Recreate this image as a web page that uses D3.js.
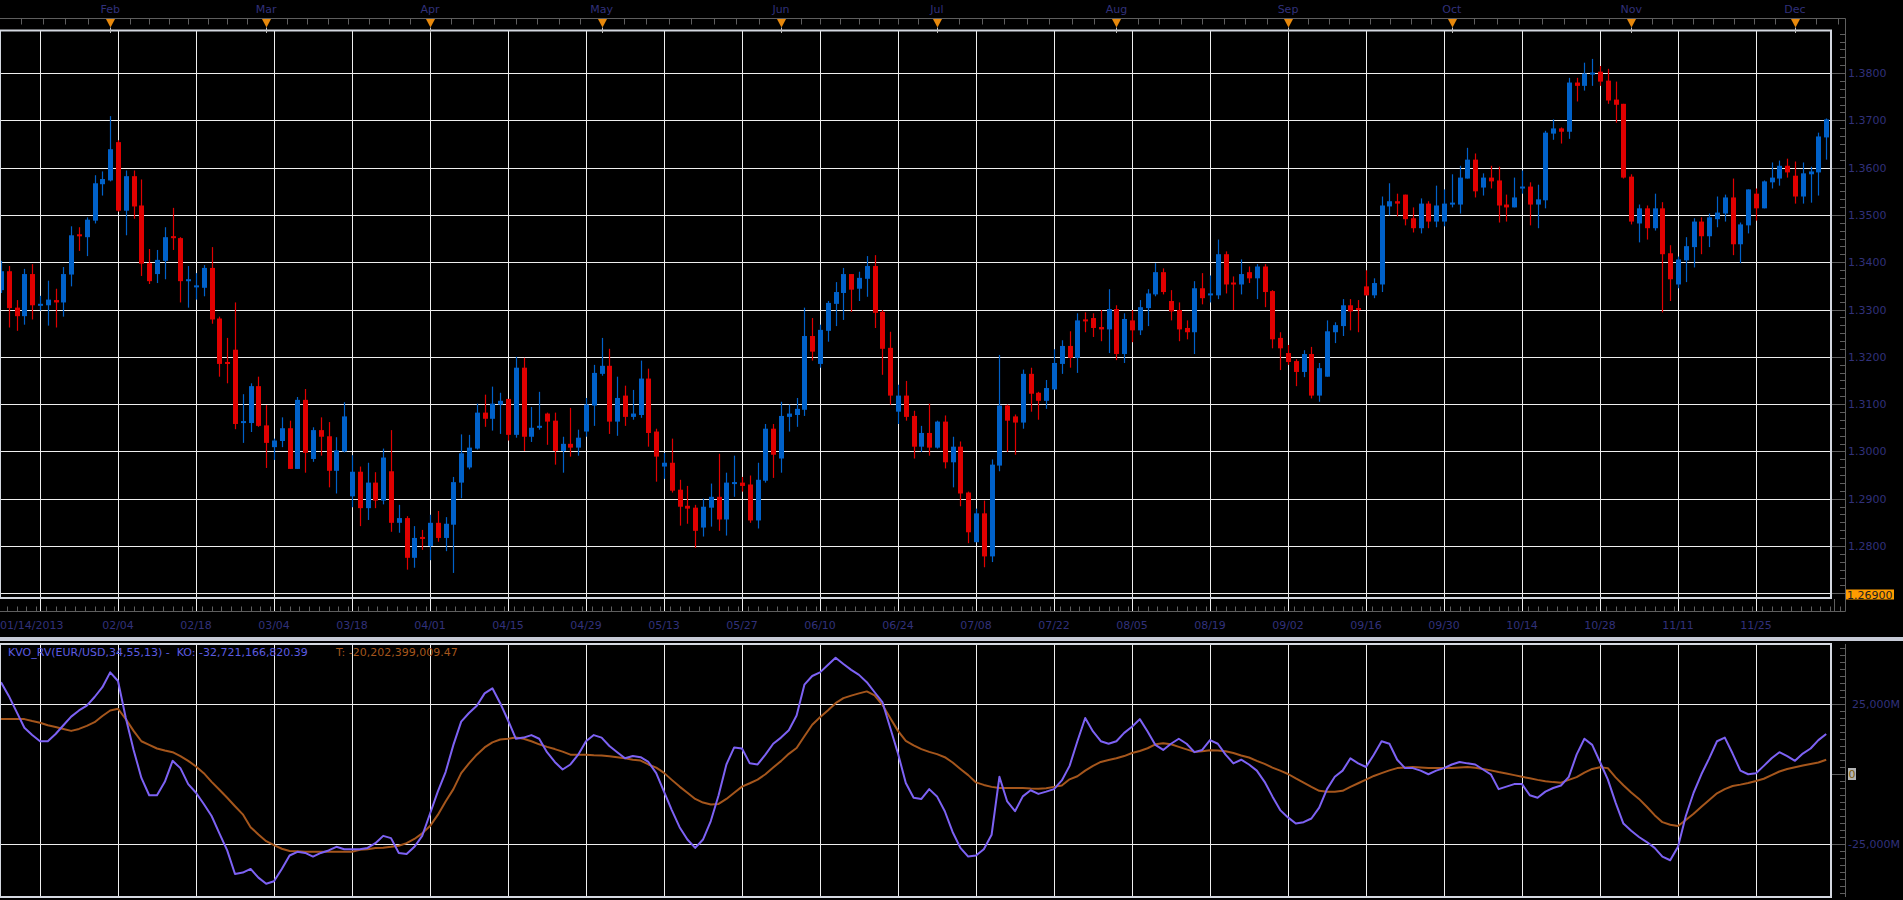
<!DOCTYPE html>
<html>
<head>
<meta charset="utf-8">
<script src="https://cdnjs.cloudflare.com/ajax/libs/d3/7.8.5/d3.min.js"></script>
<style>
  html, body { margin: 0; padding: 0; background: #000; overflow: hidden; }
  svg { display: block; }
  text { font-family: "DejaVu Sans", Verdana, sans-serif; font-size: 11px; }
</style>
</head>
<body>
<div id="chart"></div>
<script>
// EUR/USD daily candles, one per weekday starting 01/14/2013
const open = [1.3341,1.3381,1.3304,1.3286,1.3375,1.3310,1.3309,1.3320,1.3315,1.3374,
1.3457,1.3453,1.3488,1.3565,1.3573,1.3654,1.3509,1.3582,1.3520,1.3398,
1.3375,1.3403,1.3453,1.3451,1.3362,1.3345,1.3346,1.3388,1.3281,1.3187,
1.3215,1.3058,1.3060,1.3138,1.3055,1.3009,1.3022,1.3049,1.2963,1.3109,
1.2984,1.3045,1.3032,1.2959,1.3000,1.2905,1.2957,1.2880,1.2934,1.2896,
1.2958,1.2849,1.2859,1.2775,1.2817,1.2800,1.2849,1.2817,1.2845,1.2934,
1.2966,1.3006,1.3082,1.3069,1.3099,1.3111,1.3035,1.3177,1.3031,1.3048,
1.3080,1.3065,1.3001,1.3016,1.3008,1.3042,1.3097,1.3164,1.3181,1.3063,
1.3118,1.3073,1.3077,1.3154,1.3042,1.2968,1.2976,1.2919,1.2885,1.2881,
1.2839,1.2881,1.2904,1.2856,1.2933,1.2934,1.2930,1.2854,1.2938,1.3048,
1.2985,1.3073,1.3077,1.3088,1.3244,1.3185,1.3255,1.3312,1.3335,1.3375,
1.3344,1.3365,1.3392,1.3295,1.3219,1.3084,1.3118,1.3075,1.3010,1.3039,
1.3008,1.3063,1.2977,1.3010,1.2913,1.2808,1.2869,1.2778,1.2970,1.3097,
1.3074,1.3061,1.3164,1.3124,1.3107,1.3131,1.3185,1.3223,1.3198,1.3277,
1.3282,1.3263,1.3258,1.3301,1.3206,1.3277,1.3256,1.3303,1.3332,1.3379,
1.3318,1.3299,1.3261,1.3252,1.3345,1.3328,1.3330,1.3417,1.3355,1.3353,
1.3379,1.3366,1.3391,1.3339,1.3240,1.3208,1.3191,1.3168,1.3206,1.3118,
1.3158,1.3252,1.3265,1.3309,1.3301,1.3349,1.3330,1.3353,1.3518,1.3529,
1.3543,1.3493,1.3472,1.3524,1.3486,1.3486,1.3522,1.3522,1.3577,1.3617,
1.3558,1.3579,1.3573,1.3522,1.3516,1.3558,1.3560,1.3522,1.3531,1.3672,
1.3683,1.3676,1.3780,1.3773,1.3799,1.3803,1.3784,1.3744,1.3735,1.3581,
1.3482,1.3514,1.3472,1.3514,1.3419,1.3353,1.3404,1.3432,1.3486,1.3455,
1.3491,1.3503,1.3537,1.3438,1.3478,1.3545,1.3514,1.3569,1.3577,1.3604,
1.3583,1.3539,1.3586,1.3590,1.3664]
const high = [1.3403,1.3392,1.3320,1.3386,1.3396,1.3329,1.3361,1.3344,1.3390,1.3476,
1.3474,1.3495,1.3584,1.3592,1.3709,1.3658,1.3594,1.3594,1.3575,1.3428,
1.3426,1.3474,1.3515,1.3453,1.3392,1.3377,1.3394,1.3432,1.3285,1.3240,
1.3315,1.3121,1.3144,1.3158,1.3098,1.3027,1.3072,1.3065,1.3115,1.3132,
1.3051,1.3072,1.3062,1.3030,1.3104,1.2992,1.2968,1.2976,1.2956,1.3006,
1.3045,1.2887,1.2863,1.2842,1.2834,1.2866,1.2874,1.2861,1.2946,1.3036,
1.3035,1.3101,1.3120,1.3137,1.3124,1.3111,1.3200,1.3198,1.3094,1.3126,
1.3082,1.3082,1.3031,1.3092,1.3046,1.3113,1.3183,1.3240,1.3217,1.3158,
1.3139,1.3130,1.3192,1.3175,1.3048,1.2997,1.3027,1.2940,1.2927,1.2887,
1.2900,1.2932,1.2995,1.2955,1.2991,1.2946,1.2949,1.2976,1.3058,1.3058,
1.3105,1.3099,1.3113,1.3304,1.3282,1.3268,1.3318,1.3358,1.3388,1.3375,
1.3380,1.3413,1.3415,1.3299,1.3253,1.3141,1.3149,1.3086,1.3054,1.3101,
1.3065,1.3076,1.3031,1.3021,1.2915,1.2879,1.2896,1.2983,1.3204,1.3099,
1.3078,1.3173,1.3177,1.3126,1.3151,1.3216,1.3235,1.3254,1.3292,1.3294,
1.3292,1.3299,1.3343,1.3309,1.3292,1.3299,1.3320,1.3343,1.3398,1.3387,
1.3341,1.3315,1.3277,1.3360,1.3377,1.3372,1.3448,1.3423,1.3370,1.3406,
1.3391,1.3396,1.3396,1.3341,1.3252,1.3225,1.3195,1.3214,1.3221,1.3187,
1.3277,1.3273,1.3322,1.3322,1.3320,1.3383,1.3366,1.3539,1.3567,1.3545,
1.3543,1.3516,1.3535,1.3529,1.3562,1.3554,1.3586,1.3604,1.3642,1.3630,
1.3588,1.3604,1.3602,1.3543,1.3579,1.3594,1.3569,1.3564,1.3678,1.3702,
1.3685,1.3790,1.3790,1.3822,1.3830,1.3815,1.3809,1.3782,1.3735,1.3586,
1.3522,1.3520,1.3545,1.3527,1.3436,1.3412,1.3453,1.3493,1.3495,1.3503,
1.3539,1.3543,1.3577,1.3484,1.3554,1.3556,1.3573,1.3611,1.3615,1.3619,
1.3613,1.3611,1.3602,1.3674,1.3704]
const low = [1.3335,1.3262,1.3255,1.3268,1.3279,1.3298,1.3266,1.3262,1.3285,1.3349,
1.3424,1.3413,1.3482,1.3541,1.3571,1.3507,1.3457,1.3492,1.3371,1.3354,
1.3356,1.3364,1.3426,1.3315,1.3304,1.3321,1.3328,1.3270,1.3158,1.3144,
1.3047,1.3018,1.3041,1.3052,1.2965,1.2982,1.3009,1.2963,1.2963,1.2955,
1.2978,1.2991,1.2924,1.2911,1.2998,1.2882,1.2842,1.2855,1.2880,1.2888,
1.2830,1.2828,1.2750,1.2754,1.2792,1.2770,1.2809,1.2789,1.2743,1.2901,
1.2962,1.3004,1.3052,1.3044,1.3037,1.3023,1.3029,1.3001,1.3020,1.3046,
1.3014,1.2972,1.2955,1.2989,1.2991,1.3031,1.3054,1.3160,1.3037,1.3033,
1.3054,1.3067,1.3071,1.3010,1.2936,1.2942,1.2913,1.2843,1.2847,1.2796,
1.2820,1.2841,1.2832,1.2822,1.2904,1.2915,1.2849,1.2837,1.2934,1.2944,
1.2955,1.3042,1.3052,1.3075,1.3192,1.3177,1.3232,1.3265,1.3278,1.3295,
1.3318,1.3327,1.3261,1.3162,1.3099,1.3058,1.3065,1.2985,1.2999,1.2991,
1.3006,1.2964,1.2924,1.2884,1.2806,1.2808,1.2755,1.2766,1.2958,1.2999,
1.2993,1.3048,1.3084,1.3067,1.3090,1.3131,1.3164,1.3177,1.3166,1.3252,
1.3242,1.3233,1.3208,1.3193,1.3187,1.3231,1.3246,1.3265,1.3328,1.3332,
1.3277,1.3233,1.3237,1.3206,1.3311,1.3315,1.3322,1.3334,1.3299,1.3332,
1.3356,1.3322,1.3305,1.3218,1.3172,1.3183,1.3138,1.3157,1.3112,1.3105,
1.3158,1.3229,1.3244,1.3256,1.3252,1.3330,1.3324,1.3337,1.3499,1.3497,
1.3478,1.3463,1.3461,1.3472,1.3474,1.3476,1.3516,1.3503,1.3577,1.3537,
1.3541,1.3556,1.3484,1.3486,1.3516,1.3545,1.3478,1.3472,1.3514,1.3659,
1.3651,1.3661,1.3740,1.3763,1.3773,1.3773,1.3735,1.3695,1.3577,1.3480,
1.3442,1.3448,1.3467,1.3294,1.3318,1.3345,1.3358,1.3389,1.3417,1.3432,
1.3474,1.3486,1.3415,1.3398,1.3461,1.3488,1.3514,1.3556,1.3562,1.3579,
1.3524,1.3524,1.3526,1.3541,1.3617]
const close = [1.3381,1.3303,1.3286,1.3375,1.3309,1.3310,1.3321,1.3315,1.3375,1.3457,
1.3453,1.3490,1.3567,1.3576,1.3639,1.3509,1.3582,1.3518,1.3397,1.3360,
1.3405,1.3453,1.3449,1.3360,1.3362,1.3349,1.3388,1.3279,1.3185,1.3183,
1.3058,1.3062,1.3138,1.3054,1.3018,1.3023,1.3049,1.2963,1.3109,1.2997,
1.3045,1.3031,1.2959,1.3002,1.3074,1.2957,1.2880,1.2934,1.2896,1.2987,
1.2849,1.2859,1.2775,1.2817,1.2813,1.2849,1.2817,1.2847,1.2935,1.2996,
1.3008,1.3082,1.3069,1.3101,1.3107,1.3035,1.3177,1.3031,1.3050,1.3052,
1.3063,1.3001,1.3016,1.3008,1.3029,1.3099,1.3166,1.3181,1.3063,1.3113,
1.3073,1.3080,1.3154,1.3039,1.2989,1.2976,1.2917,1.2883,1.2879,1.2832,
1.2883,1.2904,1.2856,1.2934,1.2933,1.2927,1.2854,1.2940,1.3048,1.2993,
1.3075,1.3080,1.3090,1.3244,1.3211,1.3257,1.3314,1.3337,1.3375,1.3342,
1.3367,1.3392,1.3293,1.3217,1.3118,1.3118,1.3073,1.3010,1.3039,1.3008,
1.3063,1.2977,1.3010,1.2911,1.2829,1.2869,1.2778,1.2972,1.3097,1.3065,
1.3061,1.3164,1.3122,1.3107,1.3134,1.3187,1.3223,1.3198,1.3277,1.3275,
1.3261,1.3258,1.3301,1.3206,1.3280,1.3256,1.3305,1.3334,1.3379,1.3337,
1.3296,1.3258,1.3252,1.3345,1.3324,1.3332,1.3417,1.3353,1.3353,1.3375,
1.3366,1.3391,1.3337,1.3237,1.3218,1.3189,1.3168,1.3206,1.3118,1.3176,
1.3254,1.3267,1.3309,1.3296,1.3299,1.3330,1.3356,1.3520,1.3529,1.3524,
1.3491,1.3472,1.3524,1.3486,1.3520,1.3524,1.3524,1.3579,1.3617,1.3550,
1.3579,1.3571,1.3520,1.3516,1.3537,1.3558,1.3522,1.3533,1.3674,1.3683,
1.3676,1.3780,1.3773,1.3799,1.3799,1.3782,1.3742,1.3733,1.3579,1.3486,
1.3514,1.3472,1.3514,1.3417,1.3364,1.3406,1.3434,1.3486,1.3455,1.3495,
1.3505,1.3537,1.3438,1.3480,1.3554,1.3514,1.3571,1.3579,1.3604,1.3590,
1.3539,1.3588,1.3592,1.3666,1.3702]

// KVO oscillator (KO) and trigger (T), in millions
const kvo = [32800,27900,22200,16500,13900,11700,11700,14300,17400,20500,
22700,24400,27500,31000,36300,33200,20000,8600,-1400,-7600,
-7600,-2800,4700,2100,-3600,-6700,-10700,-15000,-21200,-27300,
-35700,-35200,-33900,-37000,-39200,-38300,-33900,-29100,-27800,-28200,
-29500,-28200,-27300,-26000,-26900,-26900,-26900,-26400,-24700,-22100,
-22900,-28200,-28600,-26000,-22100,-14200,-6300,700,10400,18700,
21800,24400,28800,30600,25300,19200,12600,13000,13900,12600,
7800,4300,1600,3400,6900,11700,13900,13000,10000,7800,
5600,6400,6000,4300,300,-6300,-12900,-19000,-23400,-26400,
-23400,-16800,-7600,3400,9500,9100,3800,3400,6900,10800,
13000,15600,20900,31900,35000,36300,38900,41500,39300,37200,
35400,32800,29200,25700,16500,7300,-3200,-8500,-8900,-5400,
-8000,-13300,-20700,-26400,-29500,-29100,-26900,-21700,-1000,-9800,
-13300,-8000,-5800,-7100,-6300,-5400,-2300,2900,11700,20000,
15200,11700,10800,11700,14700,16900,19600,15200,10400,8600,
10800,12600,10800,7800,8600,12100,10800,6900,3800,5100,
3400,1200,-2800,-8000,-12900,-15500,-17700,-17200,-15900,-12000,
-5400,-1000,1200,5600,3800,2500,6900,11700,10800,5100,
2100,2100,1200,-100,1200,2100,3400,4300,3800,3400,
1600,-100,-5400,-4500,-3600,-3600,-7600,-8500,-6300,-5000,
-4100,-1000,6900,12600,10400,4300,-1900,-10200,-17700,-20300,
-22500,-24300,-26400,-29500,-30800,-26000,-15000,-6700,-100,5600,
11700,13000,7300,1200,-100,300,2900,5600,7800,6400,
4700,7300,9100,12100,14300]
const kvoSignal = [19600,19600,19600,19600,18900,18300,17400,16800,16100,15400,
16100,17200,18500,20700,22700,23300,19600,15400,11700,10400,
9100,8400,7800,6400,4700,2700,300,-2800,-5600,-8500,
-11500,-14400,-19000,-21600,-24000,-25400,-26700,-27500,-27600,-27800,
-27800,-27800,-27800,-27800,-27800,-27800,-27100,-26900,-26400,-26300,
-26000,-25600,-24700,-23200,-21200,-18600,-14600,-9800,-5400,300,
3800,6900,9500,11300,12300,12600,13000,12600,11700,10600,
9700,8900,8000,6900,6900,6900,6700,6600,6300,6000,
5600,5100,4800,3400,2300,400,-2100,-4500,-6700,-8900,
-10200,-10900,-10700,-8900,-6700,-4500,-3300,-2000,-100,2300,
4600,7200,9300,13500,17600,20300,22700,25300,27100,28000,
28800,29500,28100,24700,20000,15400,11800,10200,8900,7900,
7100,6000,4100,1800,-400,-3000,-3900,-4600,-5000,-5000,
-5000,-5000,-5200,-5300,-5100,-4600,-4100,-1900,-800,1200,
2900,4300,5000,5600,6400,7500,8200,9200,10600,11000,
10600,9700,8800,7900,8100,8500,8400,8100,7500,6600,
5900,4700,3600,2300,1200,0,-1600,-3100,-4600,-6000,
-6300,-6300,-6000,-4600,-3300,-2000,-700,300,1300,2100,
2300,2500,2300,2100,2100,2100,2100,2300,2500,2200,
1800,1300,700,200,-400,-1000,-1500,-2100,-2600,-2900,
-3100,-2100,-1100,500,1800,2400,2100,-1200,-4000,-6600,
-8900,-11700,-14700,-17200,-18100,-18600,-16400,-14200,-11700,-9300,
-6900,-5400,-4300,-3800,-3200,-2500,-1700,-400,900,1800,
2400,3000,3600,4100,5100]

const monthLabels = ["Feb","Mar","Apr","May","Jun","Jul","Aug","Sep","Oct","Nov","Dec"]
const firstDateLabel = "01/14/2013"
const dateLabels = ["02/04","02/18","03/04","03/18","04/01","04/15","04/29","05/13","05/27","06/10","06/24",
  "07/08","07/22","08/05","08/19","09/02","09/16","09/30","10/14","10/28","11/11","11/25"]
const priceTicks = [1.28,1.29,1.30,1.31,1.32,1.33,1.34,1.35,1.36,1.37,1.38]
const priceGrid = [1.27,1.28,1.29,1.30,1.31,1.32,1.33,1.34,1.35,1.36,1.37,1.38]
const kvoTicks = [-25000, 0, 25000]
const kvoTickLabels = ["-25,000M", "0", "25,000M"]
const lowPriceLabel = "1.26900"
const legendKO = "KVO_RV(EUR/USD,34,55,13) -  KO: -32,721,166,820.39"
const legendT = "T: -20,202,399,009.47"

class KvoChart {

    constructor(){
        this.width = 1903
        this.height = 900
        this.plot = {left: 0, right: 1831, top: 31, bottom: 598}
        this.lower = {top: 644, bottom: 897}
        this.axisX = 1845
        this.topAxisY = 18.5
        this.bottomAxisY = 611.5
        this.step = 7.8

        this.colors = {grid: '#eeeeee', frame: '#d4d8e0', axis: '#5e5e5e', label: '#31317a',
            up: '#0061c9', down: '#e00000', ko: '#7d62f4', t: '#a5561c', marker: '#e8890c'}

        // trading days, Mon-Fri
        this.dates = []
        let day = new Date(2013, 0, 14)
        while (this.dates.length < close.length) {
            if (day.getDay() > 0 && day.getDay() < 6) this.dates.push(new Date(day))
            day = d3.timeDay.offset(day, 1)
        }

        this.x = d3.scaleLinear().domain([0, 1]).range([1, 1 + this.step])
        this.yPrice = d3.scaleLinear().domain([1.2690, 1.3889]).range([this.plot.bottom, this.plot.top])
        this.yKvo = d3.scaleLinear().domain([-43930, 46430]).range([this.lower.bottom, this.lower.top])

        this.svg = d3.select('#chart').append('svg')
            .attr('width', this.width)
            .attr('height', this.height)
        this.svg.append('rect').attr('width', this.width).attr('height', this.height).attr('fill', '#000')

        let defs = this.svg.append('defs')
        defs.append('clipPath').attr('id', 'clipMain').append('rect')
            .attr('x', this.plot.left).attr('y', this.plot.top)
            .attr('width', this.plot.right - this.plot.left).attr('height', this.plot.bottom - this.plot.top)
        defs.append('clipPath').attr('id', 'clipLower').append('rect')
            .attr('x', 0).attr('y', this.lower.top)
            .attr('width', this.plot.right).attr('height', this.lower.bottom - this.lower.top)
    }

    // weekday count from the first candle, negative before it
    tradeIndex(date){
        let first = this.dates[0]
        let isWeekday = d => d.getDay() > 0 && d.getDay() < 6
        if (date >= first) return d3.timeDay.range(first, date).filter(isWeekday).length
        return -d3.timeDay.range(date, first).filter(isWeekday).length
    }

    drawGrid(){
        let c = this.colors
        let gridIdx = d3.range(5, close.length, 10)
        let grid = this.svg.append('g').attr('id', 'grid')

        grid.selectAll('line.hmain').data(priceGrid).join('line')
            .attr('x1', this.plot.left).attr('x2', this.plot.right)
            .attr('y1', d => Math.round(this.yPrice(d)) + 0.5).attr('y2', d => Math.round(this.yPrice(d)) + 0.5)
            .attr('stroke', c.grid).attr('stroke-width', 1)
        grid.selectAll('line.vmain').data(gridIdx).join('line')
            .attr('x1', d => Math.round(this.x(d)) + 0.5).attr('x2', d => Math.round(this.x(d)) + 0.5)
            .attr('y1', this.plot.top).attr('y2', this.bottomAxisY)
            .attr('stroke', c.grid).attr('stroke-width', 1)

        grid.selectAll('line.hlow').data([-25000, 25000]).join('line')
            .attr('x1', 0).attr('x2', this.plot.right)
            .attr('y1', d => Math.round(this.yKvo(d)) + 0.5).attr('y2', d => Math.round(this.yKvo(d)) + 0.5)
            .attr('stroke', c.grid).attr('stroke-width', 1)
        grid.selectAll('line.vlow').data(gridIdx).join('line')
            .attr('x1', d => Math.round(this.x(d)) + 0.5).attr('x2', d => Math.round(this.x(d)) + 0.5)
            .attr('y1', this.lower.top).attr('y2', this.lower.bottom)
            .attr('stroke', c.grid).attr('stroke-width', 1)
    }

    drawCandles(){
        let c = this.colors
        let idx = d3.range(close.length)
        let g = this.svg.append('g').attr('id', 'candles').attr('clip-path', 'url(#clipMain)')
        let col = i => close[i] >= open[i] ? c.up : c.down

        g.selectAll('line').data(idx).join('line')
            .attr('x1', i => Math.round(this.x(i)) + 0.5)
            .attr('x2', i => Math.round(this.x(i)) + 0.5)
            .attr('y1', i => this.yPrice(high[i]))
            .attr('y2', i => this.yPrice(low[i]))
            .attr('stroke', col)
            .attr('stroke-width', 1.2)

        g.selectAll('rect').data(idx).join('rect')
            .attr('x', i => Math.round(this.x(i)) - 2)
            .attr('width', 5)
            .attr('y', i => {
                let top = this.yPrice(Math.max(open[i], close[i]))
                let h = this.yPrice(Math.min(open[i], close[i])) - top
                return h < 2 ? top - 1 : top
            })
            .attr('height', i => Math.max(2, this.yPrice(Math.min(open[i], close[i])) - this.yPrice(Math.max(open[i], close[i]))))
            .attr('fill', col)
    }

    drawKvo(){
        let c = this.colors
        let g = this.svg.append('g').attr('id', 'kvo').attr('clip-path', 'url(#clipLower)')
        let line = d3.line().x((d, i) => this.x(i)).y(d => this.yKvo(d))

        g.append('path').datum(kvoSignal).attr('d', line)
            .attr('fill', 'none').attr('stroke', c.t).attr('stroke-width', 2).attr('stroke-linejoin', 'round')
        g.append('path').datum(kvo).attr('d', line)
            .attr('fill', 'none').attr('stroke', c.ko).attr('stroke-width', 2).attr('stroke-linejoin', 'round')

        let legend = this.svg.append('g').attr('id', 'legend')
        legend.append('text').attr('x', 8).attr('y', 656).attr('fill', '#5c5ce0')
            .attr('xml:space', 'preserve').text(legendKO)
        legend.append('text').attr('x', 336).attr('y', 656).attr('fill', c.t).text(legendT)
    }

    drawFrames(){
        let c = this.colors
        let f = this.svg.append('g').attr('id', 'frames')
        f.append('rect').attr('x', 0).attr('y', 30.5)
            .attr('width', this.plot.right).attr('height', this.plot.bottom - 30.5)
            .attr('fill', 'none').attr('stroke', c.frame).attr('stroke-width', 2)
        f.append('rect').attr('x', 0).attr('y', this.lower.top)
            .attr('width', this.plot.right).attr('height', this.lower.bottom - this.lower.top)
            .attr('fill', 'none').attr('stroke', c.frame).attr('stroke-width', 2)
        // panel separator
        f.append('rect').attr('x', 0).attr('y', 637).attr('width', this.width).attr('height', 4).attr('fill', '#c6cad6')
    }

    drawAxes(){
        let c = this.colors
        let ax = this.svg.append('g').attr('id', 'axes')

        // ---- top (month) axis ----
        ax.append('line').attr('x1', 0).attr('x2', this.axisX + 0.5)
            .attr('y1', this.topAxisY).attr('y2', this.topAxisY)
            .attr('stroke', c.axis).attr('stroke-width', 1)
        let monthX = d3.range(0, 13).map(m => this.x(this.tradeIndex(new Date(2013, m, 1))))
        let topTicks = []
        for (let m = 0; m < 12; m++) {
            for (let k = 0; k < 8; k++) topTicks.push(monthX[m] + (monthX[m + 1] - monthX[m]) * k / 8)
        }
        topTicks = topTicks.filter(x => x >= 0 && x <= this.axisX)
        ax.selectAll('line.topTick').data(topTicks).join('line')
            .attr('x1', d => Math.round(d) + 0.5).attr('x2', d => Math.round(d) + 0.5)
            .attr('y1', this.topAxisY).attr('y2', this.topAxisY + 6)
            .attr('stroke', c.axis)
        let months = monthLabels.map((label, k) => ({label: label, x: monthX[k + 1]}))
        ax.selectAll('path.marker').data(months).join('path')
            .attr('d', d => 'M' + (Math.round(d.x) - 4) + ',' + (this.topAxisY + 0.5) + 'L' + (Math.round(d.x) + 5) + ',' + (this.topAxisY + 0.5)
                + 'L' + (Math.round(d.x) + 0.5) + ',' + (this.topAxisY + 9) + 'Z')
            .attr('fill', c.marker)
        ax.selectAll('line.markerStem').data(months).join('line')
            .attr('x1', d => Math.round(d.x) + 0.5).attr('x2', d => Math.round(d.x) + 0.5)
            .attr('y1', this.topAxisY + 9).attr('y2', 33)
            .attr('stroke', '#bfbfbf')
        ax.selectAll('text.month').data(months).join('text')
            .attr('x', d => d.x).attr('y', 13)
            .attr('text-anchor', 'middle').attr('fill', c.label)
            .text(d => d.label)

        // ---- bottom (date) axis ----
        ax.append('line').attr('x1', 0).attr('x2', this.axisX + 0.5)
            .attr('y1', this.bottomAxisY).attr('y2', this.bottomAxisY)
            .attr('stroke', c.axis)
        let minor = d3.range(-3, 237, 1.25).map(i => this.x(i)).filter(x => x >= 0 && x <= this.axisX)
        ax.selectAll('line.botMinor').data(minor).join('line')
            .attr('x1', d => Math.round(d) + 0.5).attr('x2', d => Math.round(d) + 0.5)
            .attr('y1', this.bottomAxisY - 5).attr('y2', this.bottomAxisY)
            .attr('stroke', c.axis)
        ax.append('line')
            .attr('x1', Math.round(this.x(235)) + 0.5).attr('x2', Math.round(this.x(235)) + 0.5)
            .attr('y1', this.plot.bottom + 1).attr('y2', this.bottomAxisY)
            .attr('stroke', c.axis)
        ax.append('text').attr('x', 0).attr('y', 629).attr('fill', c.label).text(firstDateLabel)
        ax.selectAll('text.date').data(dateLabels).join('text')
            .attr('x', (d, k) => this.x(15 + 10 * k)).attr('y', 629)
            .attr('text-anchor', 'middle').attr('fill', c.label)
            .text(d => d)

        // ---- right price axis ----
        ax.append('line').attr('x1', this.axisX + 0.5).attr('x2', this.axisX + 0.5)
            .attr('y1', this.topAxisY).attr('y2', this.bottomAxisY)
            .attr('stroke', c.axis)
        let priceMinor = d3.range(-1, 72).map(k => 1.27 + k * 0.01 / 6)
            .filter(p => p >= 1.2690 && p <= 1.3889)
        ax.selectAll('line.pMinor').data(priceMinor).join('line')
            .attr('x1', this.axisX - 5).attr('x2', this.axisX)
            .attr('y1', d => Math.round(this.yPrice(d)) + 0.5).attr('y2', d => Math.round(this.yPrice(d)) + 0.5)
            .attr('stroke', c.axis)
        ax.selectAll('line.pMajor').data(priceGrid).join('line')
            .attr('x1', this.plot.right + 1).attr('x2', this.axisX)
            .attr('y1', d => Math.round(this.yPrice(d)) + 0.5).attr('y2', d => Math.round(this.yPrice(d)) + 0.5)
            .attr('stroke', c.axis)
        ax.selectAll('text.price').data(priceTicks).join('text')
            .attr('x', this.axisX + 3).attr('y', d => this.yPrice(d) + 4)
            .attr('fill', c.label)
            .text(d => d3.format('.4f')(d))
        ax.append('rect').attr('x', this.axisX + 1).attr('y', 589.5).attr('width', 48).attr('height', 10)
            .attr('fill', '#ff9c00')
        ax.append('text').attr('x', this.axisX + 2).attr('y', 598.5).attr('fill', '#202020')
            .text(lowPriceLabel)

        // ---- right kvo axis ----
        ax.append('line').attr('x1', this.axisX + 0.5).attr('x2', this.axisX + 0.5)
            .attr('y1', this.lower.top).attr('y2', this.lower.bottom)
            .attr('stroke', c.axis)
        let kvoMinor = d3.range(-17, 19).map(k => k * 2500)
            .filter(v => this.yKvo(v) <= this.lower.bottom && this.yKvo(v) >= this.lower.top)
        ax.selectAll('line.kMinor').data(kvoMinor).join('line')
            .attr('x1', this.axisX - 5).attr('x2', this.axisX)
            .attr('y1', d => Math.round(this.yKvo(d)) + 0.5).attr('y2', d => Math.round(this.yKvo(d)) + 0.5)
            .attr('stroke', c.axis)
        ax.selectAll('line.kMajor').data(kvoTicks).join('line')
            .attr('x1', this.plot.right + 1).attr('x2', this.axisX)
            .attr('y1', d => Math.round(this.yKvo(d)) + 0.5).attr('y2', d => Math.round(this.yKvo(d)) + 0.5)
            .attr('stroke', c.axis)
        ax.append('rect').attr('x', this.axisX + 3).attr('y', this.yKvo(0) - 6).attr('width', 8).attr('height', 12)
            .attr('fill', '#b3b3b3')
        ax.selectAll('text.kvo').data(kvoTicks).join('text')
            .attr('x', d => d == 0 ? this.axisX + 3.5 : 1900)
            .attr('y', d => this.yKvo(d) + 4)
            .attr('text-anchor', d => d == 0 ? 'start' : 'end')
            .attr('fill', d => d == 0 ? '#7a5c10' : c.label)
            .text((d, k) => kvoTickLabels[k])
    }

    render(){
        this.drawGrid()
        this.drawCandles()
        this.drawKvo()
        this.drawFrames()
        this.drawAxes()
    }
}

let chart = new KvoChart()
chart.render()
</script>
</body>
</html>
